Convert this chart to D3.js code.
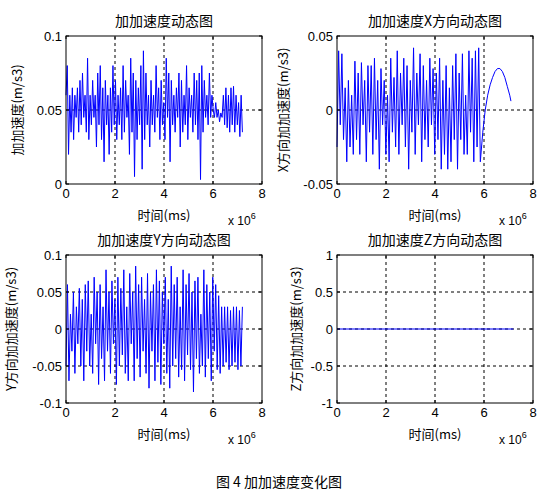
<!DOCTYPE html>
<html><head><meta charset="utf-8">
<script src="https://cdn.jsdelivr.net/npm/d3@7"></script>
<style>body{margin:0;background:#fff}text{font-family:"Liberation Sans",Arial,sans-serif}</style>
</head><body>
<script>
// jerk magnitude
var jerk = [0.06,0.08,0.02,0.06,0.035,0.065,0.03,0.06,0.045,0.065,0.035,0.07,0.04,0.075,0.045,0.06,0.035,0.085,0.03,0.06,0.04,0.07,0.045,0.06,0.025,0.075,0.04,0.08,0.03,0.065,0.015,0.07,0.04,0.06,0.02,0.065,0.035,0.08,0.04,0.07,0.03,0.06,0.04,0.065,0.03,0.08,0.035,0.07,0.045,0.06,0.02,0.085,0.035,0.075,0.005,0.07,0.03,0.065,0.04,0.08,0.01,0.09,0.03,0.075,0.04,0.06,0.025,0.07,0.04,0.06,0.035,0.08,0.045,0.065,0.03,0.07,0.04,0.055,0.03,0.085,0.045,0.075,0.015,0.07,0.04,0.06,0.035,0.065,0.045,0.075,0.025,0.07,0.035,0.06,0.04,0.08,0.03,0.065,0.045,0.06,0.035,0.075,0.04,0.07,0.03,0.075,0.003,0.08,0.035,0.07,0.045,0.06,0.04,0.075,0.045,0.06,0.05,0.045,0.055,0.045,0.05,0.042,0.048,0.045,0.06,0.04,0.065,0.038,0.06,0.035,0.065,0.04,0.066,0.035,0.06,0.04,0.055,0.032,0.06,0.035];
// X direction: fast oscillation then slow hump
var jxOsc = [-0.025,0.04,-0.01,0.038,-0.02,0.015,-0.035,0.02,-0.025,0.01,-0.03,0.033,-0.02,0.025,-0.03,0.032,-0.01,0.02,-0.035,0.03,-0.015,0.03,-0.03,0.035,-0.02,0.02,-0.04,0.028,-0.01,0.02,-0.03,0.01,-0.035,0.035,-0.015,0.022,-0.025,0.04,-0.03,0.025,-0.01,0.035,-0.025,0.03,-0.04,0.02,-0.015,0.042,-0.03,0.025,-0.01,0.038,-0.035,0.03,-0.02,0.02,-0.025,0.035,-0.01,0.028,-0.03,0.025,-0.02,0.035,-0.04,0.02,-0.03,0.03,-0.04,0.015,-0.035,0.03,-0.02,0.038,-0.04,0.025,-0.02,0.038,-0.03,0.01,-0.03,0.04,-0.015,0.035,-0.035,0.04,-0.025,0.042,-0.035];
var humpT = [5.85e6,5.95e6,6.05e6,6.15e6,6.25e6,6.35e6,6.45e6,6.55e6,6.65e6,6.75e6,6.85e6,6.95e6,7.05e6,7.1e6];
var humpV = [-0.035,-0.015,0.0,0.01,0.017,0.022,0.026,0.028,0.028,0.026,0.022,0.016,0.01,0.006];
// Y direction
var jy = [-0.05,0.06,-0.07,0.02,-0.03,0.05,-0.06,0.03,-0.02,0.055,-0.05,0.04,-0.07,0.06,-0.03,0.065,-0.05,0.02,-0.06,0.07,-0.02,0.05,-0.075,0.06,-0.04,0.03,-0.07,0.08,-0.03,0.05,-0.06,0.065,-0.02,0.04,-0.075,0.07,-0.05,0.055,-0.035,0.08,-0.06,0.03,-0.07,0.075,-0.02,0.05,-0.07,0.085,-0.04,0.06,-0.065,0.07,-0.03,0.04,-0.06,0.075,-0.08,0.05,-0.03,0.06,-0.07,0.08,-0.045,0.065,-0.075,0.05,-0.02,0.07,-0.06,0.04,-0.08,0.085,-0.05,0.06,-0.04,0.07,-0.065,0.03,-0.055,0.08,-0.07,0.06,-0.035,0.075,-0.055,0.05,-0.085,0.065,-0.04,0.07,-0.06,0.02,-0.05,0.08,-0.065,0.06,-0.04,0.05,-0.07,0.07,-0.03,0.06,-0.055,0.045,-0.06,0.03,-0.05,0.03,-0.045,0.03,-0.055,0.025,-0.05,0.03,-0.045,0.03,-0.055,0.025,-0.05,0.03];
var jz = [0, 0];
var tEnd = 7.2e6;

var xTicks = [0, 2, 4, 6, 8];

var svg = d3.select("body").append("svg").attr("width", 558).attr("height", 504);

function panel(opt) {
  var x = d3.scaleLinear().domain([0, 8e6]).range([opt.l, opt.l + 196]);
  var y = d3.scaleLinear().domain(opt.dom).range([opt.t + 148, opt.t]);
  var g = svg.append("g");
  // grid
  xTicks.slice(1, -1).forEach(function(v) {
    g.append("line").attr("x1", x(v * 1e6)).attr("x2", x(v * 1e6)).attr("y1", y.range()[0]).attr("y2", y.range()[1])
      .attr("stroke", "#000").attr("stroke-dasharray", "3,3").attr("stroke-width", 1);
  });
  opt.ticks.slice(1, -1).forEach(function(v) {
    g.append("line").attr("x1", x(0)).attr("x2", x(8e6)).attr("y1", y(v)).attr("y2", y(v))
      .attr("stroke", "#000").attr("stroke-dasharray", "3,3").attr("stroke-width", 1);
  });
  // data
  var line = d3.line().x(function(d) { return x(d[0]); }).y(function(d) { return y(d[1]); });
  opt.series.forEach(function(s) {
    g.append("path").datum(s).attr("d", line).attr("fill", "none").attr("stroke", "#0000ff").attr("stroke-width", 1);
  });
  g.append("rect").attr("x", x(0)).attr("y", opt.t).attr("width", 196).attr("height", 148)
    .attr("fill", "none").attr("stroke", "#000");
  // ticks
  xTicks.forEach(function(v) {
    g.append("line").attr("x1", x(v * 1e6)).attr("x2", x(v * 1e6)).attr("y1", opt.t + 148).attr("y2", opt.t + 145).attr("stroke", "#000");
    g.append("line").attr("x1", x(v * 1e6)).attr("x2", x(v * 1e6)).attr("y1", opt.t).attr("y2", opt.t + 3).attr("stroke", "#000");
    g.append("text").attr("x", x(v * 1e6)).attr("y", opt.t + 162).attr("text-anchor", "middle").attr("font-size", 13).text(v);
  });
  opt.ticks.forEach(function(v, i) {
    g.append("line").attr("x1", x(0)).attr("x2", x(0) + 3).attr("y1", y(v)).attr("y2", y(v)).attr("stroke", "#000");
    g.append("line").attr("x1", x(8e6)).attr("x2", x(8e6) - 3).attr("y1", y(v)).attr("y2", y(v)).attr("stroke", "#000");
    g.append("text").attr("x", x(0) - 4).attr("y", y(v) + 5).attr("text-anchor", "end").attr("font-size", 13).text(opt.labels[i]);
  });
  g.append("text").attr("x", opt.l + 98).attr("y", opt.t - 10).attr("text-anchor", "middle").attr("font-size", 14)
    .style("font-family", "Noto Sans CJK SC").text(opt.title);
  g.append("text").attr("x", opt.l + 98).attr("y", opt.t + 184).attr("text-anchor", "middle").attr("font-size", 13)
    .style("font-family", "Noto Sans CJK SC").text("时间(ms)");
  var ex = g.append("text").attr("x", opt.l + 162).attr("y", opt.t + 189).attr("font-size", 12);
  ex.append("tspan").text("x 10");
  ex.append("tspan").attr("dy", -6).attr("font-size", 9).text("6");
  g.append("text").attr("transform", "translate(" + (opt.l - opt.yoff) + "," + (opt.t + 74) + ") rotate(-90)")
    .attr("text-anchor", "middle").attr("font-size", 13).style("font-family", "Noto Sans CJK SC").text(opt.ylabel);
}

function byIndex(arr, t1) {
  return arr.map(function(v, i) { return [i * t1 / (arr.length - 1), v]; });
}

panel({ l: 66, t: 36, dom: [0, 0.1], ticks: [0, 0.05, 0.1], labels: ["0", "0.05", "0.1"],
  title: "加加速度动态图", ylabel: "加加速度(m/s3)", yoff: 44, series: [byIndex(jerk, tEnd)] });
panel({ l: 337, t: 36, dom: [-0.05, 0.05], ticks: [-0.05, 0, 0.05], labels: ["-0.05", "0", "0.05"],
  title: "加加速度X方向动态图", ylabel: "X方向加加速度(m/s3)", yoff: 49,
  series: [byIndex(jxOsc, 5.85e6), humpT.map(function(t, i) { return [t, humpV[i]]; })] });
panel({ l: 66, t: 255, dom: [-0.1, 0.1], ticks: [-0.1, -0.05, 0, 0.05, 0.1], labels: ["-0.1", "-0.05", "0", "0.05", "0.1"],
  title: "加加速度Y方向动态图", ylabel: "Y方向加加速度(m/s3)", yoff: 50, series: [byIndex(jy, tEnd)] });
panel({ l: 337, t: 255, dom: [-1, 1], ticks: [-1, -0.5, 0, 0.5, 1], labels: ["-1", "-0.5", "0", "0.5", "1"],
  title: "加加速度Z方向动态图", ylabel: "Z方向加加速度(m/s3)", yoff: 36, series: [byIndex(jz, tEnd)] });

svg.append("text").attr("x", 279).attr("y", 487).attr("text-anchor", "middle").attr("font-size", 14)
  .style("font-family", "Noto Sans CJK SC").text("图 4  加加速度变化图");
</script>
</body></html>
